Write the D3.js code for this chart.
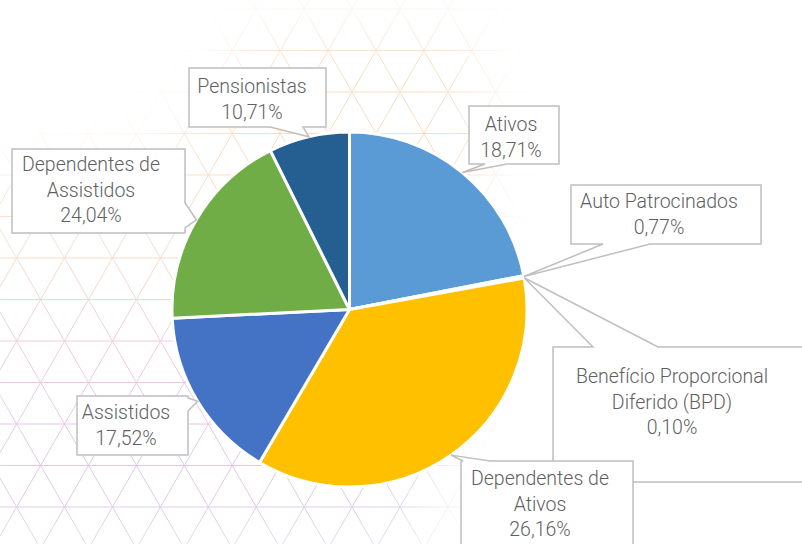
<!DOCTYPE html>
<html>
  <head>
    <meta charset="utf-8">
    <title>Participantes por categoria</title>
    <script src="https://cdn.jsdelivr.net/npm/d3@7"></script>
    <style>
      body { margin: 0; background: #fff; }
      #chart { display: block; }
      .label text { font-family: Roboto, "Noto Sans", sans-serif; font-weight: 300; font-size: 19.5px; fill: #5f5f5f; }
      .callout { fill: #fff; stroke: #bfbfbf; stroke-width: 1.5; }
    </style>
  </head>
  <body>
    <svg id="chart" width="802" height="544"></svg>

    <script>
      // data
      categories = ["Ativos", "Auto Patrocinados", "Benefício Proporcional Diferido (BPD)",
        "Dependentes de Ativos", "Assistidos", "Dependentes de Assistidos", "Pensionistas"];
      // slice sizes as drawn (share of the circle, %)
      sliceShares = [21.94, 0.17, 0.05, 36.3, 15.75, 18.43, 7.35];
      // percentages printed on the labels
      labelPercents = ["18,71%", "0,77%", "0,10%", "26,16%", "17,52%", "24,04%", "10,71%"];
      labelLines = [["Ativos"], ["Auto Patrocinados"], ["Benefício Proporcional", "Diferido (BPD)"],
        ["Dependentes de", "Ativos"], ["Assistidos"], ["Dependentes de", "Assistidos"], ["Pensionistas"]];

      // elements
      svg = d3.select("#chart");
      width = 802;
      height = 544;
      cx = 349.5;
      cy = 309.5;
      radius = 177.5;

      // background lattice
      defs = svg.append("defs");
      fade = defs.append("filter").attr("id", "fade")
        .attr("x", "-50%").attr("y", "-50%").attr("width", "200%").attr("height", "200%");
      fade.append("feGaussianBlur").attr("stdDeviation", 30);
      mask = defs.append("mask").attr("id", "latticeMask")
        .attr("maskUnits", "userSpaceOnUse")
        .attr("x", 0).attr("y", 0).attr("width", width).attr("height", height);
      mask.append("path")
        .attr("d", "M-40,175 L150,160 L265,25 L470,25 L495,140 L420,560 L-40,560 Z")
        .style("fill", "#fff")
        .attr("filter", "url(#fade)");

      tint = defs.append("linearGradient").attr("id", "tint")
        .attr("gradientUnits", "userSpaceOnUse")
        .attr("x1", 0).attr("y1", 0).attr("x2", 0).attr("y2", height);
      tint.selectAll("stop")
        .data([[0, "#f9c48f"], [0.45, "#f7c6a4"], [0.65, "#eaa6cb"], [0.85, "#c9a4dc"], [1, "#c7a9e0"]])
        .enter().append("stop")
          .attr("offset", function(d) { return d[0]; })
          .attr("stop-color", function(d) { return d[1]; });

      step = 41.5;
      side = step / Math.sin(Math.PI / 3);
      lattice = svg.append("g")
        .attr("mask", "url(#latticeMask)")
        .style("stroke", "url(#tint)")
        .style("stroke-width", 1)
        .style("opacity", 0.6);
      rows = d3.range(-3, 13).map(function(j) { return 92 + step * j; });
      lattice.selectAll(".h")
        .data(rows)
        .enter().append("line")
          .attr("x1", 0).attr("x2", width)
          .attr("y1", function(d) { return d; }).attr("y2", function(d) { return d; });
      // diagonals through the vertices of row y=92 (x = 400 + k*side)
      diag = d3.range(-20, 20).map(function(k) { return 400 + k * side; });
      dx = height / Math.tan(Math.PI / 3);
      off = 92 / Math.tan(Math.PI / 3);
      lattice.selectAll(".d1")
        .data(diag)
        .enter().append("line")
          .attr("x1", function(d) { return d - off; }).attr("y1", 0)
          .attr("x2", function(d) { return d - off + dx; }).attr("y2", height);
      lattice.selectAll(".d2")
        .data(diag)
        .enter().append("line")
          .attr("x1", function(d) { return d + off; }).attr("y1", 0)
          .attr("x2", function(d) { return d + off - dx; }).attr("y2", height);

      // pie
      colours = d3.scaleOrdinal()
        .domain(categories)
        .range(["#5b9bd5", "#ed7d31", "#a5a5a5", "#ffc000", "#4472c4", "#70ad47", "#255e91"]);

      pie = d3.pie().sort(null).value(function(d) { return d; });
      arcs = pie(sliceShares);
      arc = d3.arc().innerRadius(0).outerRadius(radius);

      pieGroup = svg.append("g")
        .attr("transform", "translate(" + cx + "," + cy + ")");
      pieGroup.selectAll(".slice")
        .data(arcs)
        .enter().append("path")
          .classed("slice", true)
          .attr("d", arc)
          .style("fill", function(d, i) { return colours(categories[i]); })
          .style("stroke", "#fff")
          .style("stroke-width", 3)
          .style("stroke-linejoin", "round");

      // label boxes: x, y, w, h, tail edge, tail start, tail end, text centre, first baseline
      boxes = [
        { x: 469, y: 106, w: 90, h: 58, edge: "bottom", t0: 485, t1: 507, tx: 511, ty: 131 },
        { x: 571, y: 185, w: 190, h: 59, edge: "bottom", t0: 603, t1: 650, tx: 659, ty: 208 },
        { x: 553, y: 347, w: 262, h: 135, edge: "top", t0: 593, t1: 658, tx: 672, ty: 383 },
        { x: 461, y: 461, w: 172, h: 100, edge: "top", t0: 463, t1: 490, tx: 540, ty: 485 },
        { x: 77, y: 396, w: 111, h: 59, edge: "right", t0: 398, t1: 411, tx: 126, ty: 419 },
        { x: 12, y: 149, w: 173, h: 84, edge: "right", t0: 203, t1: 228, tx: 91, ty: 171 },
        { x: 189, y: 68, w: 137, h: 59, edge: "bottom", t0: 270, t1: 303, tx: 252, ty: 93 }
      ];

      function tipPoint(d) {
        let a = (d.startAngle + d.endAngle) / 2;
        return [cx + radius * Math.sin(a), cy - radius * Math.cos(a)];
      }

      function callout(b, tip) {
        let x0 = b.x, y0 = b.y, x1 = b.x + b.w, y1 = b.y + b.h;
        let p = d3.path();
        p.moveTo(x0, y0);
        if (b.edge == "top") { p.lineTo(b.t0, y0); p.lineTo(tip[0], tip[1]); p.lineTo(b.t1, y0); }
        p.lineTo(x1, y0);
        if (b.edge == "right") { p.lineTo(x1, b.t0); p.lineTo(tip[0], tip[1]); p.lineTo(x1, b.t1); }
        p.lineTo(x1, y1);
        if (b.edge == "bottom") { p.lineTo(b.t1, y1); p.lineTo(tip[0], tip[1]); p.lineTo(b.t0, y1); }
        p.lineTo(x0, y1);
        p.closePath();
        return p.toString();
      }

      labels = svg.selectAll(".label")
        .data(arcs)
        .enter().append("g")
          .classed("label", true);
      labels.append("path")
        .classed("callout", true)
        .attr("d", function(d, i) { return callout(boxes[i], tipPoint(d)); });
      labels.each(function(d, i) {
        let lines = labelLines[i].concat([labelPercents[i]]);
        d3.select(this).selectAll("text")
          .data(lines)
          .enter().append("text")
            .attr("x", boxes[i].tx)
            .attr("y", function(t, j) { return boxes[i].ty + j * 25.5; })
            .attr("text-anchor", "middle")
            .text(function(t) { return t; });
      });
    </script>
  </body>
</html>
